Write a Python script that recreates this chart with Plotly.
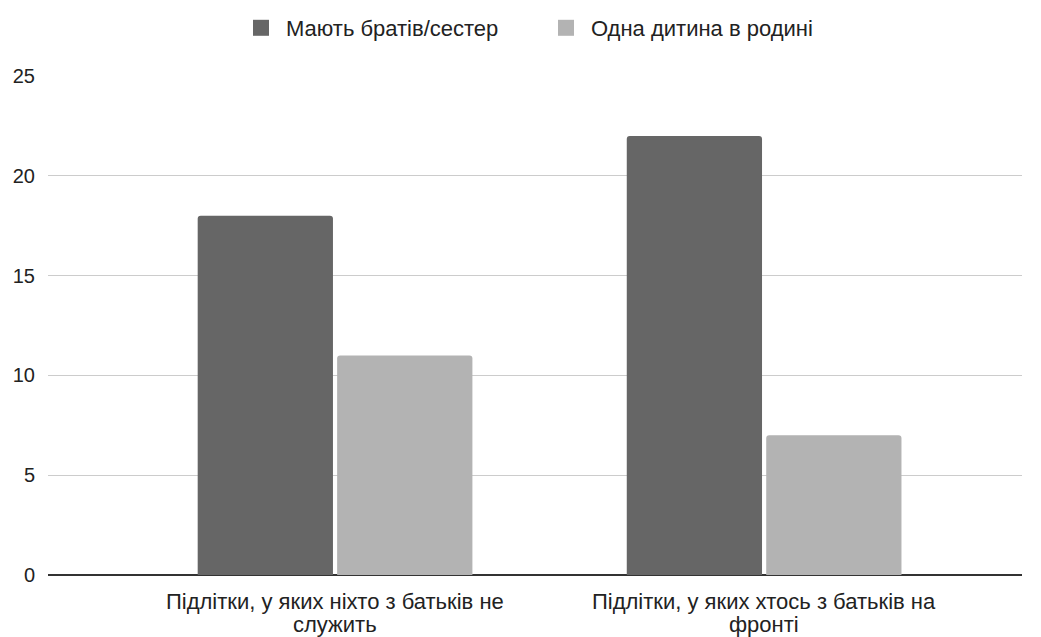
import plotly.graph_objects as go

# category labels, already split into the two lines shown under each group
category_lines = [["Підлітки, у яких ніхто з батьків не", "служить"],
                  ["Підлітки, у яких хтось з батьків на", "фронті"]]
series_names = ["Мають братів/сестер", "Одна дитина в родині"]
with_siblings = [18, 22]
only_child = [11, 7]
y_ticks = [0, 5, 10, 15, 20, 25]

colors = ["#666666", "#b3b3b3"]
font = "Liberation Sans, Arial, sans-serif"
txt = "#222222"
xpos = list(range(len(category_lines)))

fig = go.Figure()
for name, vals, col in zip(series_names, [with_siblings, only_child], colors):
    fig.add_trace(go.Bar(x=xpos, y=vals, name=name, legendgroup=name, showlegend=False,
                         marker=dict(color=col, line=dict(width=0))))
for name, col in zip(series_names, colors):
    fig.add_trace(go.Scatter(x=[None], y=[None], mode="markers", name=name, legendgroup=name,
                             marker=dict(symbol="square", size=20, color=col)))

# category labels (two lines each, tighter line spacing than tick labels allow)
for i, lines in zip(xpos, category_lines):
    for j, line in enumerate(lines):
        fig.add_annotation(x=i, xref="x", y=0, yref="paper", text=line, showarrow=False,
                           xanchor="center", yanchor="middle", yshift=-26 - 23 * j,
                           font=dict(size=22, color=txt, family=font))

fig.update_layout(
    width=1041, height=637,
    margin=dict(l=48, r=19, t=76, b=62, autoexpand=False),
    paper_bgcolor="white", plot_bgcolor="white",
    barmode="group", bargap=0.35, bargroupgap=0.03,
    barcornerradius=3,
    font=dict(family=font, size=22, color=txt),
    showlegend=True,
    legend=dict(orientation="h", x=0.193, xanchor="left", yref="container",
                y=1 - 28 / 637, yanchor="middle", entrywidth=250, entrywidthmode="pixels",
                font=dict(size=22, color=txt), itemwidth=40, traceorder="normal"),
    xaxis=dict(tickmode="array", tickvals=xpos, showticklabels=False,
               range=[-0.669, 1.601], showgrid=False, zeroline=False, automargin=False,
               showline=False, ticks=""),
    yaxis=dict(range=[0, 25], tickvals=y_ticks, showgrid=True, gridcolor="#cccccc",
               gridwidth=1, zeroline=True, zerolinecolor="#333333", zerolinewidth=1.5,
               showline=False, ticks="", ticklabelstandoff=12, automargin=False,
               tickfont=dict(size=20, color=txt)),
)

fig.write_html("out.html", config={"displayModeBar": False},
               post_script="document.body.style.margin='0';")
